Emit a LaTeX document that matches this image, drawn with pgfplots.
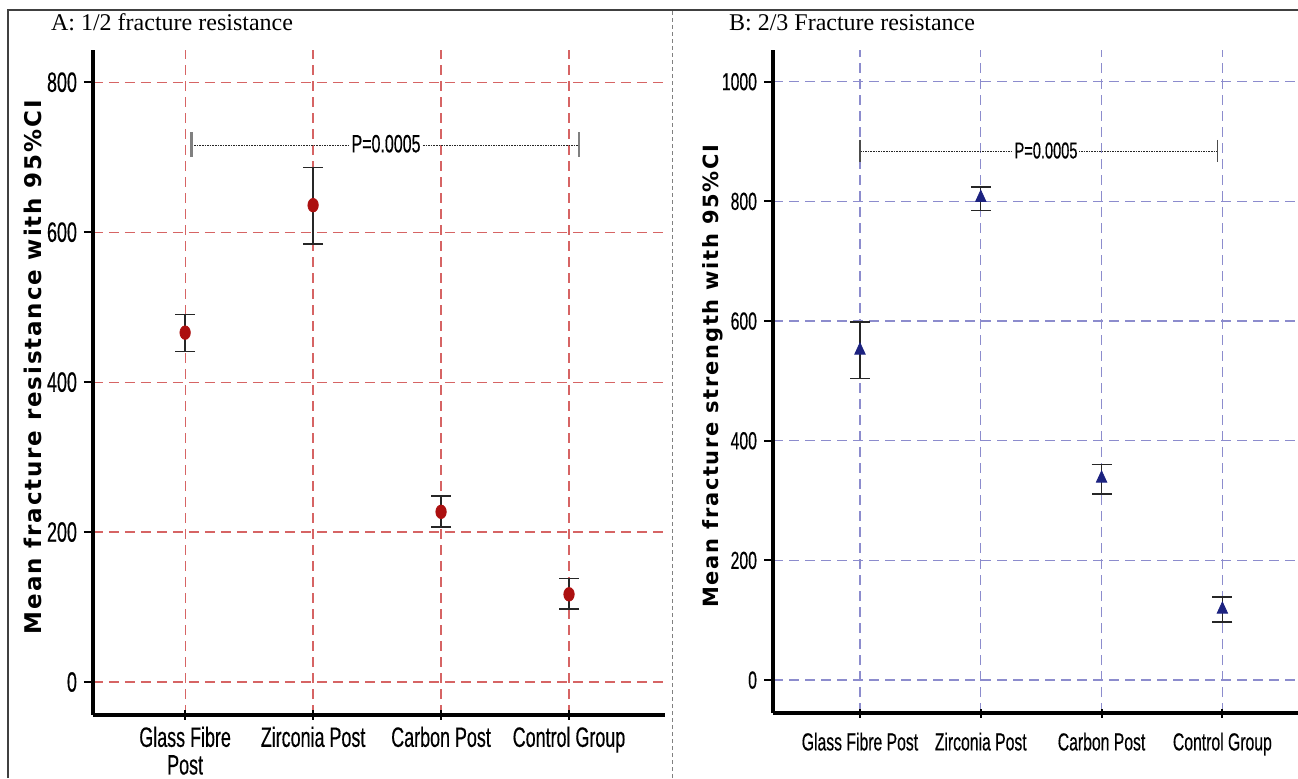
\documentclass[border=0pt]{standalone}
\usepackage{fontspec}
\setmainfont{Liberation Serif}
\newfontfamily\narrowfont[FakeStretch=0.64, FakeBold=0.4]{Liberation Sans}
\newfontfamily\labfont[LetterSpace=8]{DejaVu Sans}
\usepackage{pgfplots}
\pgfplotsset{compat=1.18}
\usepackage{pgfplotstable}

\definecolor{gridred}{RGB}{214,100,100}
\definecolor{gridblue}{RGB}{140,140,205}
\definecolor{ptred}{RGB}{172,16,16}
\definecolor{ptblue}{RGB}{28,34,128}

% mean, CI upper and lower offsets
\pgfplotstableread{
x y ep em
0 466 24 25
1 636 50 52
2 227 21 20
3 117 21 20
}\halfdata
\pgfplotstableread{
x y ep em
0 551 47 47
1 806 18 21
2 337 23 26
3 118 21 21
}\twothirddata

\pgfplotsset{
  panel/.style={
    scale only axis,
    axis x line=bottom, axis y line=left,
    x axis line style={line width=1.6pt, black, -},
    y axis line style={line width=1.6pt, black, -},
    xtick={0,1,2,3},
    xmajorgrids, ymajorgrids,
    tick style={black, line width=1pt},
    ytick align=outside, xtick align=center,
    major tick length=4.5pt,
    /pgf/number format/assume math mode=true,
    /pgf/number format/1000 sep={},
    xticklabel style={align=center},
    clip=false,
  },
  cibars/.style={
    draw=none, mark=none, forget plot,
    error bars/.cd, y dir=both, y explicit,
    error bar style={black!85, line width=0.7pt},
    error mark options={rotate=90, black!85, mark size=5pt, line width=0.8pt},
  },
}

\begin{document}
\begin{tikzpicture}
\useasboundingbox (0,0) rectangle (649pt,389pt);

% frame round the left panel and the separator
\draw[black!75, line width=0.6pt] (4pt,0) -- (4pt,384pt) -- (649pt,384pt);
\draw[gray, line width=0.5pt, dash pattern=on 2pt off 1.5pt] (336pt,0) -- (336pt,384pt);

\node[anchor=base west, font=\fontsize{12}{12}\selectfont] at (22pt,373.5pt) {A: 1/2 fracture resistance};
\node[anchor=base west, font=\fontsize{12}{12}\selectfont] at (361pt,373.5pt) {B: 2/3 Fracture resistance};

% ---- panel A ----
\begin{axis}[panel,
  at={(46.5pt,31.5pt)}, anchor=south west,
  width=286pt, height=332.5pt,
  xmin=-0.72, xmax=3.75, ymin=-44, ymax=843,
  ytick={0,200,400,600,800},
  xticklabels={{Glass Fibre\\Post}, Zirconia Post, Carbon Post, Control Group},
  ticklabel style={font=\narrowfont\fontsize{14}{13.8}\selectfont},
  xticklabel style={yshift=0pt},
  grid style={gridred, line width=0.6pt, dash pattern=on 5pt off 3pt},
  ylabel={\labfont\bfseries Mean fracture resistance with 95\%CI},
  ylabel style={at={(axis description cs:-0.105,0.523)}, anchor=center, font=\fontsize{11.5}{11.5}\selectfont},
]
\addplot[cibars] table[x=x, y=y, y error plus=ep, y error minus=em] {\halfdata};
\addplot[only marks, mark=*, mark size=2.6pt,
  mark options={fill=ptred, draw=ptred, yscale=1.3}] table[x=x, y=y] {\halfdata};

\draw[black!85, line width=0.6pt, dash pattern=on 0.8pt off 0.5pt] (axis cs:0.05,716) -- (axis cs:3.08,716);
\draw[gray, line width=1.2pt] (axis cs:0.05,733) -- (axis cs:0.05,700);
\draw[gray, line width=1.2pt] (axis cs:3.08,733) -- (axis cs:3.08,700);
\node[fill=white, inner sep=0.6pt, font=\narrowfont\fontsize{12.5}{12.5}\selectfont] at (axis cs:1.57,718) {P=0.0005};
\end{axis}

% ---- panel B ----
\begin{axis}[panel,
  at={(386.5pt,32.5pt)}, anchor=south west,
  width=262.5pt, height=331.5pt,
  xmin=-0.72, xmax=3.626, ymin=-55, ymax=1053,
  ytick={0,200,400,600,800,1000},
  xticklabels={Glass Fibre Post, Zirconia Post, Carbon Post, Control Group},
  ticklabel style={font=\narrowfont\fontsize{12.3}{12}\selectfont},
  xticklabel style={yshift=-4pt},
  grid style={gridblue, line width=0.6pt, dash pattern=on 5pt off 3pt},
  ylabel={\labfont\bfseries Mean fracture strength with 95\%CI},
  ylabel style={at={(axis description cs:-0.114,0.508)}, anchor=center, font=\fontsize{10.5}{10.5}\selectfont},
]
\addplot[cibars] table[x=x, y=y, y error plus=ep, y error minus=em] {\twothirddata};
\addplot[only marks, mark=triangle*, mark size=3pt,
  mark options={fill=ptblue, draw=ptblue, yscale=1.25}] table[x=x, y=y] {\twothirddata};

\draw[black!85, line width=0.6pt, dash pattern=on 0.8pt off 0.5pt] (axis cs:0.0,883) -- (axis cs:2.96,883);
\draw[gray!60!black, line width=0.9pt] (axis cs:0.0,903) -- (axis cs:0.0,866);
\draw[gray!60!black, line width=0.9pt] (axis cs:2.96,903) -- (axis cs:2.96,866);
\node[fill=white, inner sep=0.6pt, font=\narrowfont\fontsize{11.4}{11.4}\selectfont] at (axis cs:1.54,885) {P=0.0005};
\end{axis}
\end{tikzpicture}
\end{document}
